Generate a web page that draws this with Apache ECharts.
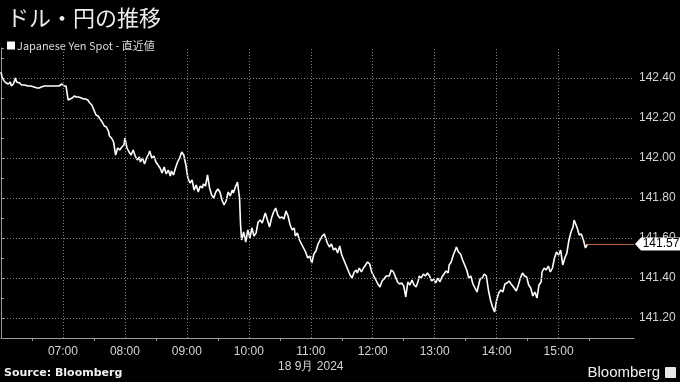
<!DOCTYPE html>
<html>
<head>
<meta charset="utf-8">
<script src="https://cdn.jsdelivr.net/npm/echarts@6/dist/echarts.min.js"></script>
<style>
html,body{margin:0;padding:0;background:#000;}
#chart{width:680px;height:382px;}
</style>
</head>
<body>
<div id="chart"></div>
<script>
// Times (JST, 18 Sep 2024) and USD/JPY spot values
const times = [
"06:00","06:01","06:03","06:05","06:07","06:09","06:10","06:12","06:14","06:15","06:16","06:18","06:20","06:23","06:26","06:29","06:32","06:35","06:37","06:39",
"06:42","06:45","06:47","06:50","06:53","06:56","06:59","07:01","07:03","07:05","07:07","07:09","07:11","07:13","07:15","07:16","07:18","07:20","07:22","07:24",
"07:26","07:28","07:30","07:32","07:34","07:36","07:38","07:40","07:42","07:44","07:45","07:47","07:49","07:51","07:53","07:55","07:57","07:59","08:00","08:02",
"08:04","08:06","08:08","08:10","08:12","08:14","08:15","08:17","08:19","08:21","08:23","08:24","08:26","08:28","08:30","08:32","08:34","08:36","08:38","08:40",
"08:42","08:44","08:45","08:47","08:49","08:51","08:53","08:55","08:57","08:59","09:01","09:03","09:05","09:07","09:09","09:11","09:13","09:15","09:16","09:18",
"09:20","09:22","09:24","09:26","09:28","09:30","09:32","09:34","09:36","09:38","09:40","09:42","09:44","09:45","09:47","09:49","09:51","09:52","09:53","09:55",
"09:57","09:59","10:01","10:03","10:05","10:07","10:09","10:11","10:13","10:15","10:16","10:18","10:20","10:22","10:24","10:26","10:28","10:30","10:32","10:34",
"10:36","10:38","10:40","10:42","10:44","10:45","10:47","10:49","10:51","10:53","10:55","10:57","10:59","11:01","11:03","11:05","11:07","11:09","11:11","11:13",
"11:15","11:16","11:18","11:20","11:22","11:24","11:26","11:28","11:30","11:32","11:34","11:36","11:38","11:40","11:42","11:44","11:45","11:47","11:49","11:51",
"11:53","11:55","11:57","11:59","12:01","12:03","12:05","12:07","12:09","12:11","12:13","12:14","12:16","12:18","12:20","12:22","12:24","12:26","12:28","12:30",
"12:32","12:34","12:36","12:38","12:40","12:42","12:44","12:45","12:47","12:49","12:51","12:53","12:55","12:57","12:59","13:01","13:03","13:05","13:07","13:09",
"13:11","13:13","13:14","13:16","13:18","13:20","13:21","13:23","13:25","13:27","13:29","13:31","13:33","13:35","13:37","13:39","13:41","13:43","13:44","13:46",
"13:48","13:50","13:52","13:54","13:56","13:58","14:00","14:02","14:04","14:06","14:08","14:10","14:12","14:14","14:15","14:17","14:19","14:21","14:23","14:25",
"14:27","14:29","14:31","14:33","14:35","14:37","14:39","14:41","14:43","14:44","14:46","14:48","14:50","14:52","14:54","14:56","14:58","15:00","15:02","15:04",
"15:06","15:08","15:10","15:12","15:14","15:15","15:16","15:18","15:20","15:22","15:24","15:26","15:27","15:28"
];
const values = [
142.430,142.405,142.385,142.375,142.370,142.380,142.360,142.370,142.400,142.380,142.370,142.375,142.365,142.365,142.360,142.360,142.355,142.350,142.350,142.355,
142.360,142.360,142.360,142.360,142.360,142.360,142.370,142.360,142.360,142.290,142.295,142.300,142.310,142.305,142.305,142.300,142.300,142.295,142.295,142.290,
142.275,142.265,142.240,142.215,142.210,142.195,142.180,142.160,142.155,142.135,142.110,142.100,142.080,142.015,142.050,142.040,142.055,142.065,142.100,142.050,
142.030,142.015,142.040,142.010,141.990,142.005,141.980,142.000,141.970,142.000,142.020,142.035,142.000,142.010,141.980,141.965,141.950,141.925,141.955,141.920,
141.940,141.910,141.935,141.915,141.950,141.980,142.000,142.030,142.015,141.965,141.900,141.875,141.890,141.840,141.865,141.830,141.860,141.850,141.870,141.860,
141.915,141.850,141.815,141.800,141.830,141.845,141.830,141.790,141.765,141.785,141.830,141.810,141.840,141.825,141.855,141.880,141.800,141.665,141.590,141.630,
141.580,141.640,141.600,141.650,141.610,141.625,141.680,141.690,141.675,141.710,141.725,141.690,141.655,141.700,141.730,141.750,141.715,141.700,141.705,141.695,
141.735,141.710,141.665,141.640,141.650,141.610,141.625,141.590,141.570,141.550,141.530,141.500,141.510,141.475,141.520,141.535,141.570,141.590,141.610,141.620,
141.590,141.575,141.555,141.570,141.540,141.550,141.525,141.560,141.515,141.490,141.465,141.440,141.415,141.400,141.430,141.440,141.425,141.450,141.430,141.450,
141.465,141.480,141.470,141.430,141.410,141.390,141.370,141.355,141.385,141.395,141.410,141.400,141.410,141.440,141.430,141.405,141.380,141.370,141.375,141.360,
141.305,141.380,141.365,141.390,141.365,141.355,141.385,141.410,141.400,141.420,141.410,141.425,141.410,141.385,141.395,141.375,141.400,141.380,141.405,141.420,
141.435,141.425,141.465,141.480,141.515,141.540,141.555,141.530,141.520,141.490,141.465,141.440,141.400,141.410,141.370,141.350,141.330,141.375,141.395,141.400,
141.420,141.410,141.340,141.290,141.255,141.230,141.290,141.325,141.340,141.330,141.370,141.375,141.385,141.370,141.380,141.350,141.335,141.365,141.400,141.425,
141.410,141.405,141.365,141.350,141.310,141.330,141.300,141.365,141.380,141.430,141.450,141.440,141.460,141.430,141.450,141.500,141.530,141.515,141.540,141.465,
141.500,141.525,141.590,141.630,141.655,141.690,141.700,141.650,141.615,141.620,141.590,141.550,141.545,141.570
];
const seriesName = "Japanese Yen Spot - 直近値";
const titleText = "ドル・円の推移";
const dateLabel = "18 9月 2024";
const yTicks = [141.2, 141.4, 141.6, 141.8, 142.0, 142.2, 142.4];
const xTickHours = ["07:00","08:00","09:00","10:00","11:00","12:00","13:00","14:00","15:00"];
const axisStart = "06:00";
const axisEnd = "16:13";
const lastValue = 141.57;

function toMin(s) { const p = s.split(":"); return (+p[0]) * 60 + (+p[1]); }
const t0 = toMin(axisStart);
const xMax = toMin(axisEnd) - t0;
const data = times.map((t, i) => [toMin(t) - t0, values[i]]);
const lastX = data[data.length - 1][0];
const hourSet = new Set(xTickHours.map(h => toMin(h) - t0));

const gridStyle = { color: '#808080', width: 1, type: [1, 2] };
const markLines = [];
xTickHours.forEach(h => markLines.push({ xAxis: toMin(h) - t0, lineStyle: gridStyle }));
yTicks.forEach(v => markLines.push([{ coord: [0, v], lineStyle: gridStyle }, { coord: [xMax, v] }]));
markLines.push([{ coord: [lastX, lastValue], lineStyle: { color: '#b4643c', width: 1, type: 'solid' } }, { coord: [xMax, lastValue] }]);

const FONT = '"Liberation Sans", Arial, sans-serif';
const chart = echarts.init(document.getElementById('chart'), null, { renderer: 'canvas' });
chart.setOption({
  backgroundColor: '#000',
  animation: false,
  title: {
    text: titleText, left: 2, top: 2,
    textStyle: { color: '#ececec', fontSize: 22, fontWeight: 'normal', fontFamily: '"Noto Sans CJK JP", sans-serif' }
  },
  legend: {
    left: 2, top: 35, itemWidth: 8, itemHeight: 8, icon: 'rect',
    data: [{ name: seriesName, itemStyle: { color: '#fff' } }],
    textStyle: { color: '#d8d8d8', fontSize: 11, fontFamily: '"Noto Sans CJK JP", ' + FONT, padding: [0, 0, 0, -3] }
  },
  grid: { left: 1, top: 48, width: 633, height: 290, containLabel: false },
  xAxis: {
    type: 'value', min: 0, max: xMax, interval: 60,
    axisLine: { show: true, lineStyle: { color: '#9a9a9a', width: 1 } },
    axisTick: { show: false },
    minorTick: { show: true, splitNumber: 2, length: 3, lineStyle: { color: '#9a9a9a' } },
    splitLine: { show: false },
    axisLabel: {
      color: '#d4d4d4', fontSize: 12, fontFamily: FONT, margin: 6, lineHeight: 15,
      showMinLabel: false, showMaxLabel: false,
      formatter: function (v) {
        if (!hourSet.has(v)) return '';
        const m = v + t0;
        const s = String(Math.floor(m / 60)).padStart(2, '0') + ':00';
        return (s === '11:00') ? s + '\n' + dateLabel : s;
      }
    }
  },
  yAxis: {
    type: 'value', position: 'right', min: 141.1, max: 142.55, interval: 0.1,
    axisLine: { show: true, lineStyle: { color: '#9a9a9a', width: 1 } },
    axisTick: { show: true, length: 3, lineStyle: { color: '#9a9a9a' } },
    splitLine: { show: false },
    axisLabel: {
      color: '#d4d4d4', fontSize: 12, fontFamily: FONT, margin: 5,
      formatter: function (v) {
        return yTicks.some(t => Math.abs(t - v) < 1e-6) ? v.toFixed(2) : '';
      }
    }
  },
  series: [{
    name: seriesName, type: 'line', data: data, showSymbol: false, clip: false,
    lineStyle: { color: '#ffffff', width: 1.6 }, itemStyle: { color: '#fff' },
    markLine: { silent: true, symbol: 'none', label: { show: false }, data: markLines, animation: false },
    markPoint: {
      silent: true, animation: false,
      data: [{
        coord: [xMax, lastValue], value: lastValue,
        symbol: 'path://M0,6.5 L6,0 L46,0 L46,13 L6,13 Z', symbolSize: [46, 13], symbolKeepAspect: false,
        symbolOffset: [24, 0],
        itemStyle: { color: '#ffffff' },
        label: { show: true, position: 'inside', offset: [3, 0], color: '#000', fontSize: 12, fontFamily: FONT,
          formatter: p => Number(p.value).toFixed(2) }
      }]
    }
  }],
  graphic: [
    { type: 'text', left: 4, top: 368, style: { text: 'Source: Bloomberg', fill: '#f0f0f0', font: 'bold 11px "DejaVu Sans", sans-serif' } },
    { type: 'text', right: 20, top: 365, style: { text: 'Bloomberg', fill: '#f0f0f0', font: '15px "Liberation Sans", Arial, sans-serif' } },
    { type: 'rect', right: 4, top: 367, shape: { width: 11, height: 11, r: 1 }, style: { fill: '#e8e8e8' } }
  ]
});
</script>
</body>
</html>
